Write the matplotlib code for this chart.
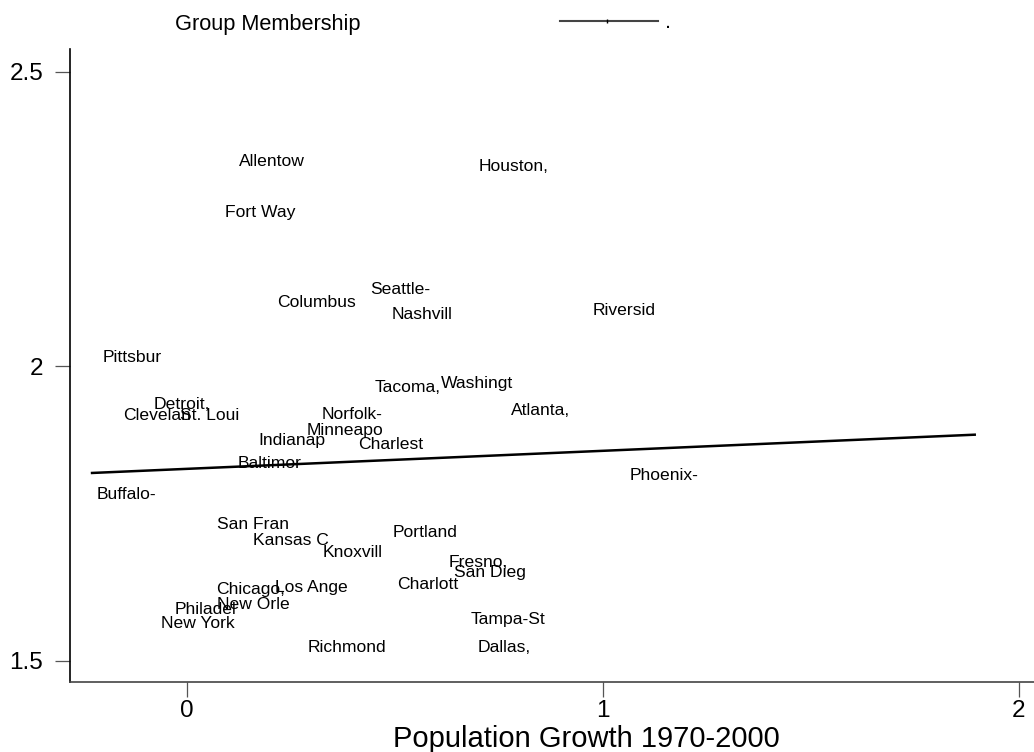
import matplotlib
matplotlib.use("Agg")
import matplotlib.pyplot as plt
from matplotlib.lines import Line2D

plt.rcParams['font.family'] = ['Liberation Sans', 'DejaVu Sans']

# metro areas: population growth 1970-2000 (x) vs. group membership (y)
cities = ["Allentow", "Houston,", "Fort Way", "Columbus", "Seattle-", "Nashvill",
          "Riversid", "Pittsbur", "Tacoma,", "Washingt", "Detroit,", "Clevelan",
          "St. Loui", "Norfolk-", "Atlanta,", "Minneapo", "Indianap", "Charlest",
          "Baltimor", "Phoenix-", "Buffalo-", "San Fran", "Kansas C", "Knoxvill",
          "Portland", "Fresno,", "San Dieg", "Charlott", "Chicago,", "Los Ange",
          "New Orle", "Philadel", "New York", "Tampa-St", "Richmond", "Dallas,"]
growth = [0.113, 0.690, 0.079, 0.204, 0.428, 0.481,
          0.964, -0.214, 0.440, 0.599, -0.091, -0.166,
          -0.029, 0.313, 0.767, 0.276, 0.159, 0.399,
          0.111, 1.053, -0.228, 0.060, 0.147, 0.315,
          0.483, 0.618, 0.630, 0.493, 0.058, 0.200,
          0.060, -0.041, -0.075, 0.671, 0.279, 0.688]
membership = [2.351, 2.342, 2.264, 2.111, 2.133, 2.091,
              2.098, 2.018, 1.967, 1.974, 1.938, 1.919,
              1.919, 1.921, 1.928, 1.894, 1.877, 1.870,
              1.838, 1.817, 1.785, 1.734, 1.707, 1.687,
              1.721, 1.670, 1.653, 1.632, 1.624, 1.627,
              1.598, 1.590, 1.566, 1.573, 1.525, 1.525]

# fitted line end points
fit_x = [-0.228, 1.894]
fit_y = [1.819, 1.884]

xticks = [0, 1, 2]
yticks = [1.5, 2, 2.5]
ytick_labels = ["1.5", "2", "2.5"]

fig = plt.figure(figsize=(10.34, 7.52), dpi=100)
# plot region runs past the right edge of the image, as in the original
ax = fig.add_axes([70 / 1034, 1 - 682 / 752, (1102 - 70) / 1034, (682 - 49) / 752])

for name, x, y in zip(cities, growth, membership):
    ax.annotate(name, (x, y), xytext=(3.6, -1.3), textcoords='offset points',
                ha='left', va='center', fontsize=12.6, color='black')

ax.plot(fit_x, fit_y, color='black', lw=1.8)

ax.set_xlim(-0.281, 2.2)
ax.set_ylim(1.464, 2.539)
ax.set_xticks(xticks)
ax.set_yticks(yticks)
ax.set_yticklabels(ytick_labels)

for side in ['top', 'right']:
    ax.spines[side].set_visible(False)
ax.spines['left'].set_color('black')
ax.spines['bottom'].set_color('#444444')
ax.spines['left'].set_linewidth(1.2)
ax.spines['bottom'].set_linewidth(1.2)
ax.tick_params(axis='both', direction='out', length=10.8, width=0.9,
               color='#555555', labelsize=17.5)
ax.tick_params(axis='y', pad=8.6)
ax.tick_params(axis='x', pad=2.5)
ax.set_xlabel("Population Growth 1970-2000", fontsize=21, labelpad=2)

# legend row at the top
fig.text(175 / 1034, 1 - 30 / 752, "Group Membership", fontsize=15.7,
         ha='left', va='baseline')
ly = 1 - 21 / 752
fig.add_artist(Line2D([560 / 1034, 607 / 1034, 658 / 1034], [ly, ly, ly],
                      color='#444444', lw=1.5, marker='|', markersize=2.5,
                      markevery=[1], markeredgecolor='black'))
fig.text(665 / 1034, 1 - 28 / 752, ".", fontsize=15.7, ha='left', va='baseline')

fig.savefig("out.png", dpi=100)
